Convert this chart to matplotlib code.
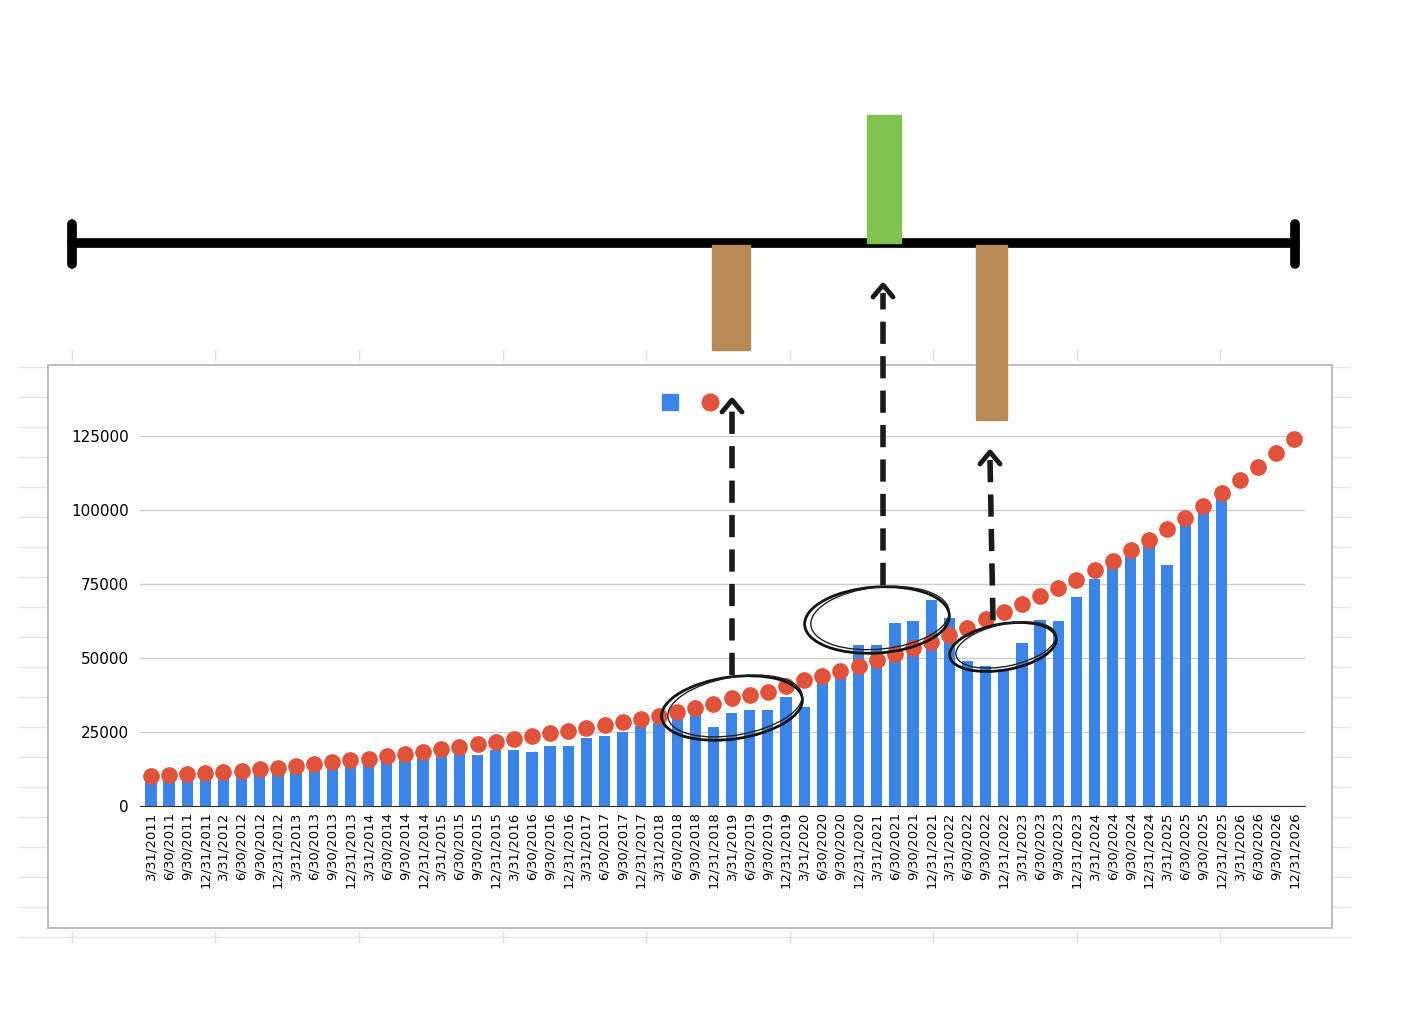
import matplotlib.pyplot as plt
from matplotlib.patches import Rectangle, Ellipse

years = range(2011, 2027)
quarters = ["3/31", "6/30", "9/30", "12/31"]
labels = [f"{q}/{y}" for y in years for q in quarters]

# 60 quarters, through 12/31/2025
bars = [8500, 8500, 9000, 9300, 9900, 10100, 10700, 11300, 12200, 12600,
        13300, 13800, 14100, 14900, 15800, 16300, 17100, 17700, 17200, 19000,
        18900, 18300, 20300, 20300, 23000, 23700, 25000, 27100, 28000, 29400,
        31600, 26560, 31400, 32400, 32400, 36700, 33300, 41800, 44100,
        54400, 54400, 61700, 62400, 69500, 63600, 49100, 47200, 46300, 55000,
        63000, 62400, 70800, 76800, 81300, 84500, 88300, 81500, 95100, 100000,
        104500]

trend = [10170, 10400, 10730, 11070, 11520, 11860, 12420, 12990, 13550, 14120,
         14910, 15590, 16040, 16940, 17500, 18300, 19200, 19990, 20890, 21790,
         22800, 23700, 24610, 25400, 26530, 27320, 28450, 29350, 30480, 31610,
         33000, 34470, 36390, 37520, 38650, 40680, 42600, 43840, 45650, 47450,
         49490, 51410, 53330, 55590, 57850, 60110, 63270, 65530, 68240, 70950,
         73660, 76480, 79650, 82700, 86420, 89810, 93760, 97380, 101440, 105960,
         110140, 114660, 119400, 124030]

W, H = 1406, 1030
fig = plt.figure(figsize=(W / 100, H / 100), dpi=100)

# background: faint spreadsheet grid and chart box
bg = fig.add_axes([0, 0, 1, 1], zorder=0)
bg.set_xlim(0, W); bg.set_ylim(H, 0); bg.axis("off")
for y in range(367, 940, 30):
    bg.plot([18, 1350], [y, y], color="#e6e6e6", lw=1, zorder=1)
for x in [72, 215, 359, 503, 646, 790, 933, 1077, 1220]:
    bg.plot([x, x], [350, 360], color="#e0e0e0", lw=1)
    bg.plot([x, x], [932, 942], color="#e0e0e0", lw=1)
bg.add_patch(Rectangle((48, 365), 1284, 563, facecolor="white",
                       edgecolor="#b0b0b0", lw=1.2, zorder=3))

# chart
ax = fig.add_axes([140 / W, 1 - 806 / H, 1165 / W, 426 / H], zorder=2)
ax.patch.set_alpha(0)
x = list(range(len(labels)))
ax.bar(x[:len(bars)], bars, width=0.62, color="#3c85e6", zorder=2)
ax.plot(x, trend, "o", color="#e0533a", ms=11, zorder=3)
ax.set_xlim(-0.6, 63.6)
ax.set_ylim(0, 144000)
ax.set_yticks([0, 25000, 50000, 75000, 100000, 125000])
ax.set_yticklabels(["0", "25000", "50000", "75000", "100000", "125000"])
ax.set_xticks(x)
ax.set_xticklabels(labels, rotation=90, fontsize=9.5)
ax.tick_params(axis="y", labelsize=11, length=0, pad=8)
ax.tick_params(axis="x", length=0, pad=4)
ax.grid(axis="y", color="#cccccc", lw=1, zorder=0)
for s in ["top", "right", "left"]:
    ax.spines[s].set_visible(False)
ax.spines["bottom"].set_color("#333333")

# foreground annotations
fg = fig.add_axes([0, 0, 1, 1], zorder=3)
fg.set_xlim(0, W); fg.set_ylim(H, 0); fg.axis("off")
fg.plot(670, 402, "s", color="#3c85e6", ms=12)
fg.plot(710, 402, "o", color="#e0533a", ms=12)

fg.plot([72, 1295], [243, 243], color="black", lw=7, solid_capstyle="round")
for xe in [72, 1295]:
    fg.plot([xe, xe], [224, 264], color="black", lw=7, solid_capstyle="round")
fg.add_patch(Rectangle((867, 115), 34, 128, color="#80c150", zorder=3))
fg.add_patch(Rectangle((712, 245), 38, 105, color="#b88a58", zorder=3))
fg.add_patch(Rectangle((976, 245), 31, 175, color="#b88a58", zorder=3))

for cx, cy, w, h, a in [(732, 708, 142, 62, -8), (877, 620, 145, 66, -4),
                        (1003, 647, 108, 46, -10)]:
    fg.add_patch(Ellipse((cx, cy), w, h, angle=a, fill=False, lw=2, color="#111111"))
    fg.add_patch(Ellipse((cx + 3, cy - 2), w - 6, h - 4, angle=a - 2, fill=False,
                         lw=1, color="#222222"))

for (x0, y0, x1, y1) in [(732, 675, 732, 400), (883, 585, 883, 285), (993, 620, 990, 452)]:
    fg.plot([x0, x1], [y0, y1 + 8], color="#1a1a1a", lw=4, dashes=(4, 2.2))
    fg.plot([x1 - 10, x1, x1 + 10], [y1 + 12, y1, y1 + 12], color="#1a1a1a", lw=3.5,
            solid_capstyle="round", solid_joinstyle="round")

fig.savefig("out.png", dpi=100)
